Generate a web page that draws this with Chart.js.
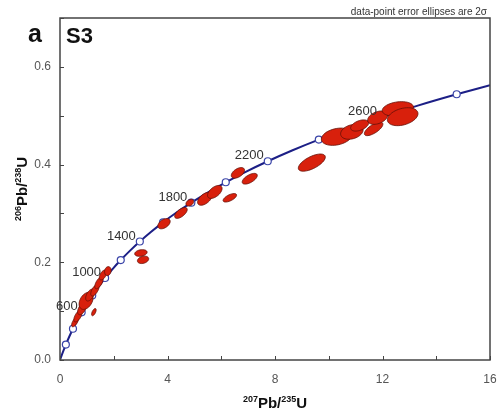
<!DOCTYPE html>
<html>
<head>
<meta charset="utf-8">
<script src="https://cdn.jsdelivr.net/npm/chart.js@4.4.0/dist/chart.umd.min.js"></script>
<style>
  html, body { margin: 0; padding: 0; background: #fff; }
  #wrap { width: 499px; height: 416px; }
</style>
</head>
<body>
<div id="wrap"><canvas id="myChart"></canvas></div>
<script>
// concordia curve, ages in Ma
const ages  = [0, 100, 200, 300, 400, 500, 600, 700, 800, 900, 1000, 1100, 1200, 1300, 1400,
               1500, 1600, 1700, 1800, 1900, 2000, 2100, 2200, 2300, 2400, 2500, 2600, 2700, 2800, 2877];
const concX = [0, 0.1035, 0.2177, 0.3437, 0.4828, 0.6363, 0.8056, 0.9925, 1.1988, 1.4264, 1.6775, 1.9546, 2.2604, 2.5978, 2.9702,
               3.3813, 3.8349, 4.3350, 4.8872, 5.4955, 6.1678, 6.9102, 7.7306, 8.6335, 9.6300, 10.730, 11.943, 13.283, 14.760, 16.0];
const concY = [0, 0.0156, 0.0315, 0.0476, 0.0640, 0.0807, 0.0975, 0.1147, 0.1321, 0.1498, 0.1678, 0.1861, 0.2046, 0.2234, 0.2425,
               0.2620, 0.2817, 0.3018, 0.3221, 0.3428, 0.3638, 0.3851, 0.4068, 0.4288, 0.4511, 0.4738, 0.4968, 0.5202, 0.5439, 0.5625];
const labelAges = [600, 1000, 1400, 1800, 2200, 2600];

// spot analyses: 207Pb/235U, 206Pb/238U, 2s errors, error correlation
const spotX = [0.56, 0.67, 0.82, 0.97, 1.12, 1.30, 1.45, 1.60, 1.78, 1.26,
               3.01, 3.09, 3.87, 4.50, 4.83, 5.39, 5.76, 6.32, 6.62, 7.06,
               9.37, 10.30, 10.86, 11.15, 11.67, 11.82, 12.57, 12.75];
const spotY = [0.078, 0.090, 0.105, 0.121, 0.133, 0.143, 0.158, 0.174, 0.182, 0.098,
               0.219, 0.205, 0.279, 0.301, 0.322, 0.330, 0.344, 0.332, 0.383, 0.371,
               0.404, 0.457, 0.467, 0.480, 0.473, 0.496, 0.514, 0.498];
const errX  = [0.129, 0.156, 0.165, 0.260, 0.165, 0.156, 0.156, 0.138, 0.122, 0.085,
               0.231, 0.210, 0.230, 0.234, 0.144, 0.271, 0.271, 0.251, 0.247, 0.281,
               0.502, 0.575, 0.419, 0.335, 0.345, 0.373, 0.581, 0.570];
const errY  = [0.0100, 0.0121, 0.0123, 0.0175, 0.0123, 0.0121, 0.0121, 0.0102, 0.0092, 0.0074,
               0.0069, 0.0076, 0.0105, 0.0112, 0.0069, 0.0133, 0.0133, 0.0087, 0.0109, 0.0110,
               0.0176, 0.0177, 0.0152, 0.0115, 0.0138, 0.0137, 0.0148, 0.0184];
const rho   = [0.65, 0.63, 0.53, 0.37, 0.53, 0.63, 0.63, 0.53, 0.15, 0.60,
               0.24, 0.27, 0.45, 0.62, 0.35, 0.53, 0.53, 0.63, 0.50, 0.61,
               0.64, 0.28, 0.27, 0.45, 0.70, 0.38, 0.24, 0.34];

const xTicks = [0, 4, 8, 12, 16];
const yTicks = [0, 0.2, 0.4, 0.6];

const FONT = "'Liberation Sans', Arial, sans-serif";

// error ellipses, drawn over the curve
const ellipses = {
  id: 'ellipses',
  afterDatasetsDraw(chart) {
    const { ctx, scales: { x, y } } = chart;
    ctx.save();
    ctx.beginPath();
    ctx.rect(chart.chartArea.left, chart.chartArea.top, chart.chartArea.width, chart.chartArea.height);
    ctx.clip();
    for (let i = 0; i < spotX.length; i++) {
      const r = rho[i];
      const q = Math.sqrt(1 - r * r);
      ctx.beginPath();
      for (let k = 0; k <= 48; k++) {
        const t = k / 48 * Math.PI * 2;
        const dx = errX[i] * Math.cos(t);
        const dy = errY[i] * (r * Math.cos(t) + q * Math.sin(t));
        const px = x.getPixelForValue(spotX[i] + dx);
        const py = y.getPixelForValue(spotY[i] + dy);
        if (k === 0) ctx.moveTo(px, py); else ctx.lineTo(px, py);
      }
      ctx.closePath();
      ctx.fillStyle = 'rgb(216,32,12)';
      ctx.fill();
      ctx.strokeStyle = 'rgb(100,16,8)';
      ctx.lineWidth = 0.8;
      ctx.stroke();
    }
    ctx.restore();
  }
};

// frame, inward ticks, age labels and titles
const decor = {
  id: 'decor',
  afterDraw(chart) {
    const { ctx, chartArea: a, scales: { x, y } } = chart;
    ctx.save();
    ctx.strokeStyle = '#444';
    ctx.lineWidth = 1.5;
    ctx.strokeRect(a.left, a.top, a.width, a.height);

    ctx.lineWidth = 1;
    ctx.beginPath();
    x.ticks.forEach(t => {
      const px = Math.round(x.getPixelForValue(t.value)) + 0.5;
      ctx.moveTo(px, a.bottom);
      ctx.lineTo(px, a.bottom - 4);
    });
    y.ticks.forEach(t => {
      const py = Math.round(y.getPixelForValue(t.value)) + 0.5;
      ctx.moveTo(a.left, py);
      ctx.lineTo(a.left + 4, py);
    });
    ctx.stroke();

    // age labels on concordia
    ctx.fillStyle = '#333';
    ctx.font = '13px ' + FONT;
    ctx.textAlign = 'right';
    ctx.textBaseline = 'middle';
    labelAges.forEach(age => {
      const i = ages.indexOf(age);
      const px = x.getPixelForValue(concX[i]);
      const py = y.getPixelForValue(concY[i]);
      ctx.fillText(String(age), px - 4, py - 5.5);
    });

    // panel letters
    ctx.fillStyle = '#111';
    ctx.textAlign = 'left';
    ctx.textBaseline = 'alphabetic';
    ctx.font = 'bold 25px ' + FONT;
    ctx.fillText('a', 28, 42);
    ctx.font = 'bold 22px ' + FONT;
    ctx.fillText('S3', 66, 43);

    ctx.fillStyle = '#333';
    ctx.font = '10px ' + FONT;
    ctx.textAlign = 'right';
    ctx.fillText('data-point error ellipses are 2\u03c3', a.right - 3, 15);

    drawRatio(ctx, '207', 'Pb/', '235', 'U', (a.left + a.right) / 2, 408, 0);
    drawRatio(ctx, '206', 'Pb/', '238', 'U', 27, (a.top + a.bottom) / 2, -Math.PI / 2);
    ctx.restore();
  }
};

function drawRatio(ctx, s1, b1, s2, b2, cx, cy, rot) {
  const big = 'bold 15px ' + FONT, small = 'bold 9px ' + FONT;
  const parts = [[s1, small, -6], [b1, big, 0], [s2, small, -6], [b2, big, 0]];
  let w = 0;
  parts.forEach(p => { ctx.font = p[1]; w += ctx.measureText(p[0]).width; });
  ctx.save();
  ctx.translate(cx, cy);
  ctx.rotate(rot);
  ctx.fillStyle = '#111';
  ctx.textAlign = 'left';
  ctx.textBaseline = 'alphabetic';
  let px = -w / 2;
  parts.forEach(p => {
    ctx.font = p[1];
    ctx.fillText(p[0], px, p[2]);
    px += ctx.measureText(p[0]).width;
  });
  ctx.restore();
}

const chartData = {
  datasets: [{
    label: 'Concordia',
    data: ages.map((t, i) => ({ x: concX[i], y: concY[i] })),
    showLine: true,
    borderColor: '#1c1f86',
    borderWidth: 2,
    cubicInterpolationMode: 'monotone',
    pointRadius: ages.map(t => (t > 0 && t % 200 === 0 ? 3.5 : 0)),
    pointBackgroundColor: '#fff',
    pointBorderColor: '#3a44a8',
    pointBorderWidth: 1.2
  }]
};

const config = {
  type: 'scatter',
  data: chartData,
  options: {
    responsive: true,
    maintainAspectRatio: false,
    animation: false,
    layout: { padding: { left: 0, right: 9, top: 18, bottom: 0 } },
    plugins: { legend: { display: false }, tooltip: { enabled: false } },
    scales: {
      x: {
        min: 0, max: 16,
        grid: { display: false, drawTicks: false },
        border: { display: false },
        ticks: {
          stepSize: 2,
          padding: 12,
          color: '#555',
          font: { family: FONT, size: 12 },
          callback: v => (xTicks.includes(v) ? String(v) : '')
        },
        afterFit: s => { s.height = 56; s.paddingLeft = 0; s.paddingRight = 0; }
      },
      y: {
        min: 0, max: 0.7,
        grid: { display: false, drawTicks: false },
        border: { display: false },
        ticks: {
          stepSize: 0.1,
          padding: 9,
          color: '#555',
          font: { family: FONT, size: 12 },
          callback: v => (yTicks.some(t => Math.abs(t - v) < 1e-6) ? v.toFixed(1) : '')
        },
        afterFit: s => { s.width = 60; s.paddingTop = 0; s.paddingBottom = 0; }
      }
    }
  },
  plugins: [ellipses, decor]
};

const myChart = new Chart(document.getElementById('myChart'), config);
</script>
</body>
</html>
